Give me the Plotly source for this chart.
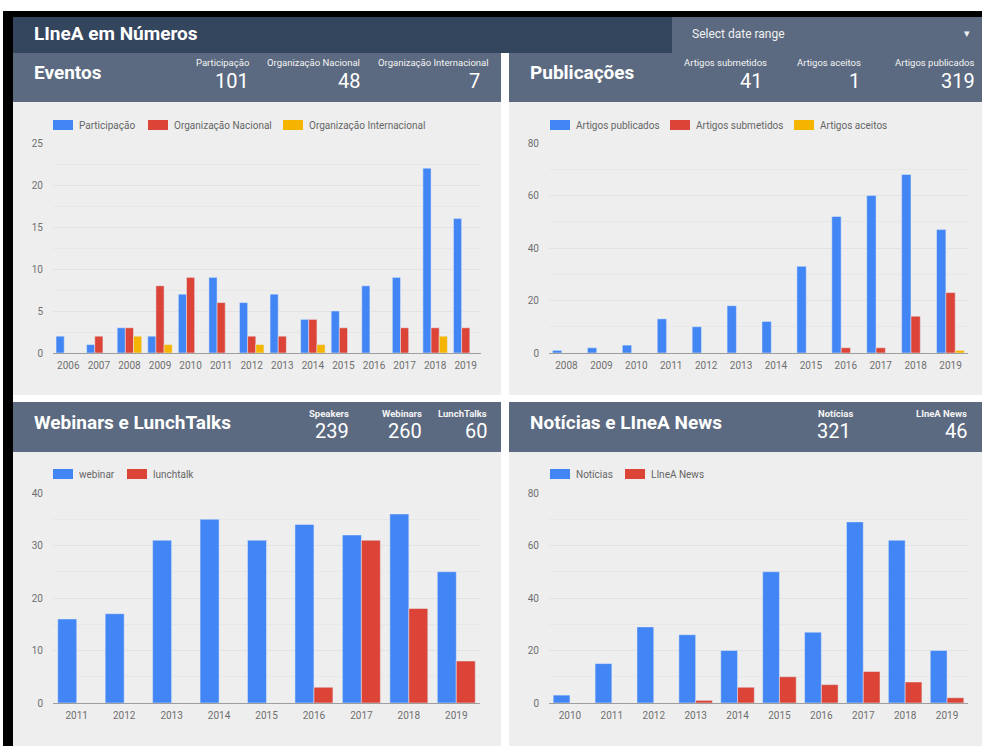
import plotly.graph_objects as go

# ---------------- data ----------------
ev_years = [str(y) for y in range(2006, 2020)]
ev_participacao = [2, 1, 3, 2, 7, 9, 6, 7, 4, 5, 8, 9, 22, 16]
ev_org_nacional = [0, 2, 3, 8, 9, 6, 2, 2, 4, 3, 0, 3, 3, 3]
ev_org_internacional = [0, 0, 2, 1, 0, 0, 1, 0, 1, 0, 0, 0, 2, 0]

pub_years = [str(y) for y in range(2008, 2020)]
pub_publicados = [1, 2, 3, 13, 10, 18, 12, 33, 52, 60, 68, 47]
pub_submetidos = [0, 0, 0, 0, 0, 0, 0, 0, 2, 2, 14, 23]
pub_aceitos = [0, 0, 0, 0, 0, 0, 0, 0, 0, 0, 0, 1]

web_years = [str(y) for y in range(2011, 2020)]
web_webinar = [16, 17, 31, 35, 31, 34, 32, 36, 25]
web_lunchtalk = [0, 0, 0, 0, 0, 3, 31, 18, 8]

not_years = [str(y) for y in range(2010, 2020)]
not_noticias = [3, 15, 29, 26, 20, 50, 27, 69, 62, 20]
not_linea_news = [0, 0, 0, 1, 6, 10, 7, 12, 8, 2]

ev_kpis = [("Participação", "101"), ("Organização Nacional", "48"), ("Organização Internacional", "7")]
pub_kpis = [("Artigos submetidos", "41"), ("Artigos aceitos", "1"), ("Artigos publicados", "319")]
web_kpis = [("Speakers", "239"), ("Webinars", "260"), ("LunchTalks", "60")]
not_kpis = [("Notícias", "321"), ("LIneA News", "46")]

# ---------------- styling ----------------
W, H = 982, 746
BLUE, RED, YELLOW = "#4285f4", "#db4437", "#f4b400"
NAVY, SLATE, PANEL = "#34455e", "#5b6a80", "#eeeeee"
FONT = "Roboto"


def fx(px):
    return px / W


def fy(py):
    return 1 - py / H


fig = go.Figure()
shapes = []
annotations = []


def rect(x0, y0, x1, y1, color, layer="below"):
    shapes.append(dict(type="rect", xref="paper", yref="paper",
                       x0=fx(x0), x1=fx(x1), y0=fy(y1), y1=fy(y0),
                       fillcolor=color, line=dict(width=0), layer=layer))


def text(x, y, s, size, anchor="left", color="#ffffff", bold=False):
    annotations.append(dict(
        x=fx(x), y=fy(y), xref="paper", yref="paper", showarrow=False,
        text=f"<b>{s}</b>" if bold else s, xanchor=anchor, yanchor="middle",
        font=dict(family=FONT, size=size, color=color),
    ))


panels = [
    # (axis suffix, x-domain px, y-domain px, y max, tick step,
    #  legend row y, legend item x positions, traces)
    ("", (53, 481), (143, 353), 25, 5, 125, [53, 148, 283],
     [(ev_years, ev_participacao, "Participação", BLUE),
      (ev_years, ev_org_nacional, "Organização Nacional", RED),
      (ev_years, ev_org_internacional, "Organização Internacional", YELLOW)]),
    ("2", (549, 968), (143, 353), 80, 20, 125, [550, 670, 794],
     [(pub_years, pub_publicados, "Artigos publicados", BLUE),
      (pub_years, pub_submetidos, "Artigos submetidos", RED),
      (pub_years, pub_aceitos, "Artigos aceitos", YELLOW)]),
    ("3", (53, 480), (493, 703), 40, 10, 474, [53, 127],
     [(web_years, web_webinar, "webinar", BLUE),
      (web_years, web_lunchtalk, "lunchtalk", RED)]),
    ("4", (549, 968), (493, 703), 80, 20, 474, [550, 625],
     [(not_years, not_noticias, "Notícias", BLUE),
      (not_years, not_linea_news, "LIneA News", RED)]),
]

layout_axes = {}
legend_items = []
for suffix, (x0, x1), (y0, y1), ymax, step, leg_y, leg_xs, traces in panels:
    for (xs, ys, name, color), lx in zip(traces, leg_xs):
        fig.add_trace(go.Bar(
            x=xs, y=ys, name=name, marker_color=color,
            xaxis="x" + suffix, yaxis="y" + suffix, showlegend=False,
        ))
        legend_items.append((lx, leg_y, name, color))
    layout_axes["xaxis" + suffix] = dict(
        domain=[fx(x0), fx(x1)], anchor="y" + suffix, type="category",
        showline=True, linecolor="#9e9e9e", linewidth=1,
        showgrid=False, zeroline=False, ticks="",
        tickfont=dict(family=FONT, size=10, color="#6f6f6f"),
        ticklabelstandoff=3, fixedrange=True, automargin=False,
    )
    layout_axes["yaxis" + suffix] = dict(
        domain=[fy(y1), fy(y0)], anchor="x" + suffix,
        range=[0, ymax], dtick=step, tick0=0,
        showline=False, zeroline=False,
        showgrid=True, gridcolor="#e2e2e2", gridwidth=1,
        minor=dict(dtick=step / 2, showgrid=True, gridcolor="#e7e7e7", gridwidth=1),
        tickfont=dict(family=FONT, size=10, color="#6f6f6f"),
        ticklabelstandoff=9, fixedrange=True, automargin=False,
    )

# ---------------- background blocks ----------------
rect(3, 11, W, H, "#000000")          # frame
rect(13, 17, W, H, "#ffffff")         # page
rect(13, 17, W, 53, NAVY)             # title bar
rect(672, 17, W, 53, SLATE)           # date range control
rect(13, 53, 501, 102, SLATE)         # Eventos header
rect(509, 53, W, 102, SLATE)          # Publicações header
rect(13, 102, 501, 395, PANEL)
rect(509, 102, W, 395, PANEL)
rect(13, 402, 501, 452, SLATE)        # Webinars header
rect(509, 402, W, 452, SLATE)         # Notícias header
rect(13, 452, 501, H, PANEL)
rect(509, 452, W, H, PANEL)

# ---------------- legends (wide swatch + label) ----------------
for lx, ly, name, color in legend_items:
    rect(lx, ly - 5, lx + 20, ly + 5, color, layer="above")
    text(lx + 24, ly, name, 10, color="#666666")

# ---------------- header texts ----------------
text(32, 33, "LIneA em Números", 19, bold=True)
text(690, 34, "Select date range", 12, color="#f1f1f1")
text(967, 33, "▾", 11, anchor="center", color="#f1f1f1")

text(32, 73, "Eventos", 19, bold=True)
text(528, 73, "Publicações", 19, bold=True)
text(32, 422, "Webinars e LunchTalks", 19, bold=True)
text(528, 422, "Notícias e LIneA News", 19, bold=True)


def kpis(items, label_rights, value_rights, y_label, y_value, bold_label):
    for (label, value), lr, vr in zip(items, label_rights, value_rights):
        text(lr, y_label, label, 9.5, anchor="right", color="#f4f4f4", bold=bold_label)
        text(vr, y_value, value, 20, anchor="right", color="#ffffff")


kpis(ev_kpis, [251, 362, 491], [251, 362, 482], 63, 81, False)
kpis(pub_kpis, [769, 863, 977], [764, 862, 977], 63, 81, False)
kpis(web_kpis, [351, 424, 489], [351, 424, 489], 413, 431, True)
kpis(not_kpis, [855, 969], [853, 969], 413, 431, True)

fig.update_layout(
    width=W, height=H, margin=dict(l=0, r=0, t=0, b=0, autoexpand=False),
    paper_bgcolor="#ffffff", plot_bgcolor="rgba(0,0,0,0)",
    barmode="group", bargap=0.2, bargroupgap=0,
    shapes=shapes, annotations=annotations,
    font=dict(family=FONT), showlegend=False,
    **layout_axes,
)

fig.write_html(
    "out.html",
    config={"displayModeBar": False},
    post_script="document.body.style.margin='0';document.body.style.overflow='hidden';",
)
